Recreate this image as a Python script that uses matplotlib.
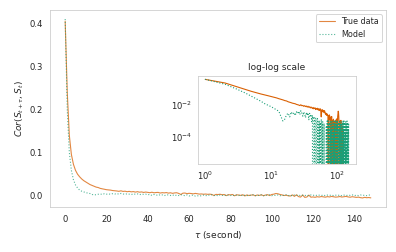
import numpy as np
import matplotlib
matplotlib.use("Agg")
import matplotlib.pyplot as plt
import seaborn as sns

# autocorrelation values, tau = 0..148
true_corr = [
    0.405, 0.24, 0.14, 0.095, 0.072, 0.058, 0.049, 0.043, 0.038, 0.034,
    0.031, 0.028, 0.025, 0.023, 0.021, 0.019, 0.018, 0.016, 0.015, 0.014,
    0.013, 0.0125, 0.012, 0.011, 0.0105, 0.010, 0.0092, 0.0104, 0.0090, 0.0095,
    0.0083, 0.0091, 0.0080, 0.0086, 0.0074, 0.0084, 0.0072, 0.0078, 0.0066, 0.0075,
    0.0068, 0.0060, 0.0071, 0.0058, 0.0064, 0.0067, 0.0052, 0.0061, 0.0056, 0.0063,
    0.0050, 0.0058, 0.0045, 0.0055, 0.0059, 0.0043, 0.0018, 0.0049, 0.0052, 0.0038,
    0.0046, 0.0041, 0.0033, 0.0044, 0.0035, 0.0027, 0.0031, 0.0024, 0.0029, 0.0022,
    0.0026, 0.0019, -0.0004, 0.0021, 0.0017, 0.0024, 0.0012, 0.0018, -0.0008, 0.0015,
    0.0009, 0.0019, -0.0012, 0.0011, 0.0006, -0.0003, 0.0013, -0.0015, 0.0008, -0.0006,
    0.0004, 0.0010, -0.0011, 0.0007, -0.0004, 0.0012, -0.0009, 0.0005, 0.0014, -0.0007,
    0.0018, 0.0026, 0.0041, 0.0035, 0.0019, 0.0008, -0.0006, 0.0003, -0.0012, -0.0018,
    0.0009, -0.0025, 0.0011, -0.0031, -0.0042, 0.0006, -0.0048, -0.0041, 0.0004, -0.0045,
    -0.0038, -0.0047, -0.0033, -0.0041, -0.0029, -0.0037, -0.0044, -0.0031, -0.0039, -0.0027,
    -0.0035, -0.0043, -0.0038, -0.0029, -0.0041, -0.0034, -0.0026, -0.0038, -0.0045, -0.0033,
    -0.0040, -0.0049, -0.0043, -0.0055, -0.0062, -0.0048, -0.0057, -0.0052, -0.0060,
]
model_corr = [
    0.41, 0.20, 0.10, 0.058, 0.036, 0.024, 0.017, 0.012, 0.0095, 0.0078,
    0.0062, 0.0050, 0.0041, 0.0019, 0.0010, 0.0013, 0.0024, 0.0031, 0.0018, 0.0037,
    0.0026, 0.0034, 0.0022, 0.0038, 0.0029, 0.0041, 0.0025, 0.0044, 0.0031, 0.0020,
    0.0037, 0.0026, 0.0016, 0.0035, 0.0023, 0.0032, 0.0012, 0.0030, 0.0021, 0.0026,
    0.0009, 0.0023, -0.0004, 0.0019, 0.0012, -0.0008, 0.0016, 0.0009, -0.0011, 0.0014,
    0.0006, -0.0005, 0.0011, -0.0013, 0.0008, -0.0007, 0.0013, 0.0004, -0.0012, 0.0009,
    -0.0016, -0.0006, 0.0007, -0.0019, -0.0011, -0.0021, -0.0008, 0.0005, -0.0014, 0.0010,
    -0.0003, 0.0012, -0.0009, 0.0006, -0.0015, 0.0008, -0.0004, 0.0011, -0.0010, 0.0003,
    -0.0007, 0.0009, -0.0012, 0.0005, -0.0006, 0.0010, -0.0014, 0.0002, -0.0009, 0.0007,
    -0.0005, 0.0012, -0.0011, 0.0004, -0.0008, 0.0009, -0.0013, 0.0006, -0.0003, 0.0011,
    -0.0010, 0.0005, -0.0007, 0.0008, -0.0012, 0.0003, -0.0006, 0.0010, -0.0009, 0.0004,
    -0.0015, 0.0007, -0.0004, 0.0009, -0.0011, 0.0002, -0.0008, 0.0006, -0.0013, 0.0008,
    -0.0005, 0.0011, -0.0009, 0.0003, -0.0007, 0.0010, -0.0012, 0.0005, -0.0004, 0.0008,
    -0.0010, 0.0002, -0.0006, 0.0009, -0.0013, 0.0004, -0.0008, 0.0006, -0.0003, 0.0010,
    -0.0011, 0.0005, -0.0007, 0.0008, -0.0005, 0.0003, -0.0009, 0.0006, 0.0004,
]
tau = np.arange(len(true_corr))

sns.set_style("white")
plt.rcParams["axes.edgecolor"] = "#cccccc"
plt.rcParams["text.color"] = "#262626"
plt.rcParams["axes.labelcolor"] = "#262626"
plt.rcParams["xtick.color"] = "#262626"
plt.rcParams["ytick.color"] = "#262626"

orange = "#d95f02"
green = "#1b9e77"

fig = plt.figure(figsize=(5.5, 3.5), dpi=72)
ax = fig.add_axes([0.126, 0.179, 0.849, 0.781])
ax.plot(tau, true_corr, color=orange, alpha=0.75, lw=1.1, label="True data")
ax.plot(tau, model_corr, color=green, alpha=0.75, lw=1.1, ls=":", label="Model")
ax.set_xlabel(r"$\tau$ (second)", fontsize=9, labelpad=5)
ax.set_ylabel(r"$Cor(S_{t+\tau}, S_t)$", fontsize=9)
ax.set_yticks([0.0, 0.1, 0.2, 0.3, 0.4])
ax.tick_params(axis="x", length=0, labelsize=8.5, pad=8)
ax.tick_params(axis="y", length=0, labelsize=8.5, pad=7)
ax.legend(loc="upper right", fontsize=8)

# inset on log-log axes
ins = fig.add_axes([0.5, 0.349, 0.399, 0.349])
ins.loglog(tau + 1, true_corr, color=orange, lw=1.1)
ins.loglog(tau + 1, model_corr, color=green, lw=1.1, ls=":")
ins.set_ylim(2e-6, 0.65)
ins.set_yticks([1e-4, 1e-2])
ins.minorticks_off()
ins.tick_params(length=0, labelsize=8.5, pad=6)
ins.set_title("log-log scale", fontsize=9)

fig.savefig("out.png", dpi=72)
